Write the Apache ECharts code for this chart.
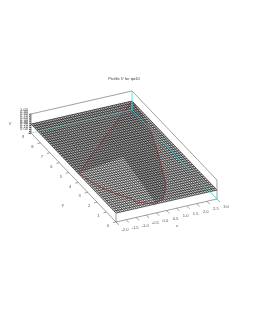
<!DOCTYPE html>
<html><head><meta charset="utf-8">
<script src="https://cdn.jsdelivr.net/npm/echarts@6/dist/echarts.min.js"></script>
<style>html,body{margin:0;padding:0;background:#fff}#c{width:253px;height:327px}</style>
</head><body><div id="c"></div>
<script>
const titleText = 'Profile V for q=10';
const xTicks = [-2.0,-1.5,-1.0,-0.5,0.0,0.5,1.0,1.5,2.0,2.5,3.0];
const yTicks = [0,1,2,3,4,5,6,7,8,9];
const vTicks = [0.0,0.1,0.2,0.3,0.4,0.5,0.6,0.7,0.8,0.9,1.0];
const xGrid = [-2,-1.9,-1.8,-1.7,-1.6,-1.5,-1.4,-1.3,-1.2,-1.1,-1,-0.9,-0.8,-0.7,-0.6,-0.5,-0.4,-0.3,-0.2,-0.1,0,0.1,0.2,0.3,0.4,0.5,0.6,0.7,0.8,0.9,1,1.1,1.2,1.3,1.4,1.5,1.6,1.7,1.8,1.9,2,2.1,2.2,2.3,2.4,2.5,2.6,2.7,2.8,2.9,3];
const yGrid = [0,0.2,0.4,0.6,0.8,1,1.2,1.4,1.6,1.8,2,2.2,2.4,2.6,2.8,3,3.2,3.4,3.6,3.8,4,4.2,4.4,4.6,4.8,5,5.2,5.4,5.6,5.8,6,6.2,6.4,6.6,6.8,7,7.2,7.4,7.6,7.8,8,8.2,8.4,8.6,8.8,9];
const surfaceV = 0.47;
// curves on the surface, [x, y]
const redLeft = [[-2,4],[-0.9,5.1],[0,6],[1,7],[2,8],[3,9]];
const redBottom = [[-2,4],[-1.64,2.46],[-1.2,1.5],[-0.85,0.98],[-0.72,0.51],[-0.3,0.2],[0,0.05],[0.4,0.25],[0.77,0.74],[1.2,1.6],[1.47,2.43],[2.04,4.19],[2.68,6.42],[3,9]];
// background tone of surface areas, [x, y]
const wedgeDark = [[-2,4],[0.46,4.52],[0,0.05],[0.4,0.25],[0.77,0.74],[1.2,1.6],[1.47,2.43],[2.04,4.19],[2.68,6.42],[3,9]];
const leftMid = [[-2,4],[3,9],[-2,9]];
const rightMid = [[0,0.05],[3,0],[3,9],[2.68,6.42],[2.04,4.19],[1.47,2.43],[1.2,1.6],[0.77,0.74],[0.4,0.25]];

function P(x,y,z){ return [116+20.2*(x+2)-9.44*y, 222-4.6*(x+2)-9.89*y-19*z]; }
const xMin=-2,xMax=3,yMin=0,yMax=9;

const chart = echarts.init(document.getElementById('c'),null,{renderer:'canvas'});
function customLines(items){
  return {type:'custom',coordinateSystem:'cartesian2d',silent:true,clip:false,animation:false,
    data:items.map((d,i)=>[i]),
    renderItem(params,api){
      const it=items[params.dataIndex];
      const pts=it.pts.map(p=>api.coord(P(p[0],p[1],p[2])));
      if(it.fill) return {type:'polygon',shape:{points:pts},style:{fill:it.fill,stroke:null}};
      return {type:'polyline',shape:{points:pts},style:{fill:null,stroke:it.color,lineWidth:it.width}};
    }};
}
function customText(items){
  return {type:'custom',coordinateSystem:'cartesian2d',silent:true,clip:false,animation:false,
    data:items.map((d,i)=>[i]),
    renderItem(params,api){
      const it=items[params.dataIndex];
      const c=api.coord(P(it.p[0],it.p[1],it.p[2]));
      return {type:'text',x:c[0]+it.dx,y:c[1]+it.dy,style:{text:it.t,fill:'#555',font:'4.1px "Liberation Sans"',align:'center',verticalAlign:'middle'}};
    }};
}
const tone = [
 {pts:[[xMin,yMin,surfaceV],[xMax,yMin,surfaceV],[xMax,yMax,surfaceV],[xMin,yMax,surfaceV]],fill:'#e4e4e4'},
 {pts:wedgeDark.map(p=>[p[0],p[1],surfaceV]),fill:'#b0b0b0'},
 {pts:leftMid.map(p=>[p[0],p[1],surfaceV]),fill:'#bcbcbc'},
 {pts:rightMid.map(p=>[p[0],p[1],surfaceV]),fill:'#d4d4d4'}
];
const mesh=[];
xGrid.forEach(x=>mesh.push({pts:yGrid.map(y=>[x,y,surfaceV]),color:'#000',width:0.6}));
yGrid.forEach(y=>mesh.push({pts:xGrid.map(x=>[x,y,surfaceV]),color:'#000',width:0.6}));
const box=[
 [[xMin,yMin,0],[xMax,yMin,0]],[[xMin,yMin,0],[xMin,yMax,0]],
 [[xMin,yMax,1],[xMax,yMax,1]],[[xMax,yMax,1],[xMax,yMin,1]],
 [[xMin,yMin,0],[xMin,yMin,surfaceV]],[[xMax,yMin,0],[xMax,yMin,1]],
 [[xMin,yMax,0],[xMin,yMax,1]]
].map(p=>({pts:p,color:'#777',width:0.7}));
const ticks=[];
xTicks.forEach(x=>ticks.push({pts:[[x,0,0],[x,-0.3,0]],color:'#666',width:0.6}));
yTicks.forEach(y=>ticks.push({pts:[[xMin,y,0],[xMin-0.15,y,0]],color:'#666',width:0.6}));
vTicks.forEach(v=>ticks.push({pts:[[xMin,yMax,v],[xMin-0.1,yMax,v]],color:'#222',width:0.8}));
const overlay=[
 {pts:redLeft.map(p=>[p[0],p[1],surfaceV]),color:'#8c2a2a',width:0.7},
 {pts:redBottom.map(p=>[p[0],p[1],surfaceV]),color:'#8c2a2a',width:0.7},
 {pts:[[xMax,yMin,0],[xMax,yMax,0]],color:'#3cc',width:0.8},
 {pts:[[xMin,yMax,0],[xMax,yMax,0]],color:'#6cc',width:0.5},
 {pts:[[xMax,yMax,0],[xMax,yMax,1]],color:'#5dd',width:0.9}
];
const labels=[];
xTicks.forEach(x=>labels.push({p:[x,0,0],dx:9,dy:8,t:x.toFixed(1)}));
yTicks.forEach(y=>labels.push({p:[xMin,y,0],dx:-8,dy:4,t:String(y)}));
vTicks.forEach(v=>labels.push({p:[xMin,yMax,v],dx:-7,dy:-4,t:v.toFixed(2)}));
labels.push({p:[0.5,-0.8,0],dx:3,dy:7,t:'x'});
labels.push({p:[xMin,3,0],dx:-25,dy:13,t:'y'});
labels.push({p:[xMin,yMax,0.5],dx:-21,dy:0,t:'V'});

chart.setOption({
 animation:false,
 grid:{left:0,right:0,top:0,bottom:0},
 xAxis:{type:'value',min:0,max:253,show:false},
 yAxis:{type:'value',min:0,max:327,inverse:true,show:false},
 graphic:[{type:'text',x:124,y:79,style:{text:titleText,fill:'#444',font:'4.1px "Liberation Sans"',align:'center',verticalAlign:'middle'}}],
 series:[customLines(tone),customLines(mesh),customLines(box),customLines(ticks),customLines(overlay),customText(labels)]
});
</script></body></html>
